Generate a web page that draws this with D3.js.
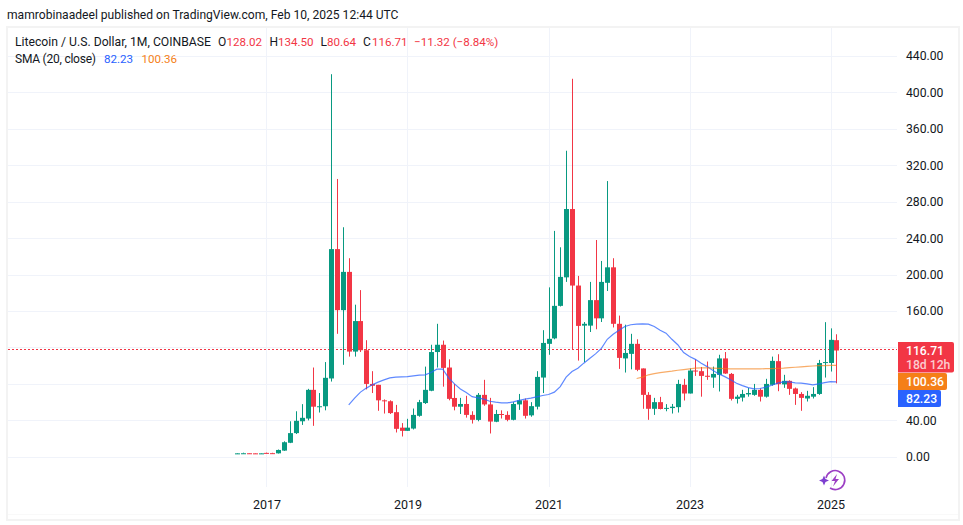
<!DOCTYPE html>
<html>
<head>
<meta charset="utf-8">
<script src="https://cdn.jsdelivr.net/npm/d3@7"></script>
<style>
html,body{margin:0;padding:0;background:#fff;}
svg{display:block;}
text{font-family:Roboto,sans-serif;}
</style>
</head>
<body>
<script>
//monthly candles Aug 2016 - Feb 2025
var months = d3.timeMonths(new Date(2016,7,1), new Date(2025,2,1)).map(d3.timeFormat("%Y-%m"));
var opens = [3.7,3.8,3.9,3.8,3.7,4.3,4.0,3.8,6.8,15.4,26,39,42,73.5,55,55.5,86,228,161,203,115.5,149,117,80,79,62,61,49,32,28.5,31,45,59,72.5,115,123,98,64.6,55,58,46,40.5,68,57.5,38.5,47,46,40.6,57.5,62,45.5,55,87,124,130,165.7,197,272,188,144,144,172,152,191,208,146,108,113,124,97,68,52.7,60,53,53.5,54.5,79,69.5,94.7,94,89,87,90,108,91,63.6,65,68.5,68,73.5,66,79,105,79.5,83.4,75,69,64,66,69,103,103,128.02];
var highs = [4.1,4.5,4.1,4,4.1,4.6,4.4,8,17,39,50,57.8,74.6,98,70,104,420,305,252,218,167,183,128,94,79,63,62,57,37,41.7,53,62.5,99,123,146,127.6,107,80,64.7,67,50,70,84.5,64.7,51.5,51,50,60,69,64,60,94,139,186,248,230,336,415,198.6,148,192,238,215,302.7,218,155,145,135,129,97,71,64.7,65.8,57.8,58,84.5,85.6,97,107,98.6,104.6,99,112,115,92,68,73.5,75.7,80,75,85.6,110,112.6,90,84,76,71,72.4,76.5,106.4,147.8,141,134.5];
var lows = [3.5,3.6,3.6,3.5,3.6,3.7,3.6,3.6,6.5,15,25,35,40,34,48.6,51,82.6,135,101,110,110,115,74,70,50.5,47.5,47,26.7,22.3,28.5,30,44,58,72,98,77,62,51,47,43,36.5,39,56,25.6,38,42,39,40,51.5,42,44,52,70,112,129,165,192,118,105.6,104,137,140,148,182,142,96.5,92.5,96,94,52.7,40.6,46,52,50,47.5,48.6,61.8,69.5,88.8,66,84.5,75.7,71.7,91,61.8,58.5,60.7,66,67,60.7,65,78,72,75.7,68,57,50.5,60.7,64,68,87,93.6,80.64];
var closes = [3.8,3.9,3.8,3.7,3.8,4.0,3.8,7.5,16,26,39.5,42.8,73.5,55,55.5,86.7,228,161,203,115.5,149,117,80,78,62,61,48,30.7,28.5,32,46,60,73.5,115,123,97.6,63.6,55,58,46,40.6,68,57.5,38.7,47,46,40.6,58,62,45,55.6,87.7,125,129.5,165.7,197.5,272,188,143.7,146,172,152,192,208,146,108.6,114,124,95.5,68,52.7,60,52.5,53.7,55,80,69.5,94.7,94,88.8,87.8,91,108,91.4,63.6,66,69,70,73.5,66,80,105.3,79.7,83.4,74.6,69,64.7,67,69,103,104,128.4,116.71];
//SMA lines, first value sits at the month in the *Start var
var smaFastStart = "2018-03";
var smaFast = [57,64.4,71,75.4,79,82,84.5,86.7,87.4,87.8,88,88.9,89.6,90,92.5,96.2,96.2,86.7,80,74.5,70.5,66,64.7,63.3,61,60,59.2,59.2,60.3,62,63.3,64.4,65.8,67.3,68.4,71,77,87.4,93.6,97.3,102.8,108,113,119,129,134.6,139,143,145,145.6,146,145.6,143,139,135.7,129,123,114.5,110,107,102.8,99,94.7,91,88,84.5,80.8,78.2,76,74.6,75,76.5,78.6,80.8,82.3,82.3,81.2,80.8,80,79,80,81.5,82.6,82.23];
var smaSlowStart = "2022-04";
var smaSlow = [86,87.4,90,91.4,92.5,93.3,94,95,95.8,96.5,97.3,97.6,97.6,97.3,97,96.8,96.6,96.5,96.5,96.5,96.5,96.6,96.7,96.8,97,97.3,97.8,98.3,98.8,99.3,99.7,100,100.2,100.3,100.36];
var priceTicks = [0,40,80,120,160,200,240,280,320,360,400,440];
var hiddenTicks = [80,120]; //covered by the price labels
var yearTicks = ["2017-01","2019-01","2021-01","2023-01","2025-01"];

var upColor = "#089981", downColor = "#f23645", blue = "#2962ff", orange = "#f57f17";
var textColor = "#131722";

var svg = d3.select("body").append("svg")
    .attr("width",963)
    .attr("height",525);

var x = d3.scalePoint().domain(months).range([237.1,836.4]);
var y = d3.scaleLinear().domain([0,440]).range([456.8,56]);

//frame
svg.append("rect")
    .attr("x",7).attr("y",27)
    .attr("width",952).attr("height",493)
    .attr("fill","#fff").attr("stroke","#f3f3f3").attr("stroke-width",2);
svg.append("line")
    .attr("x1",8).attr("x2",958).attr("y1",514.5).attr("y2",514.5)
    .attr("stroke","#f9f9f9");

//grid
svg.append("g").selectAll("line.h").data(priceTicks).enter().append("line")
    .attr("x1",8).attr("x2",897)
    .attr("y1",function(d){ return Math.round(y(d))+0.5; })
    .attr("y2",function(d){ return Math.round(y(d))+0.5; })
    .attr("stroke","#f0f3fa");
svg.append("g").selectAll("line.v").data(yearTicks).enter().append("line")
    .attr("y1",28).attr("y2",487)
    .attr("x1",function(d){ return Math.round(x(d))+0.5; })
    .attr("x2",function(d){ return Math.round(x(d))+0.5; })
    .attr("stroke","#f0f3fa");

//axes
var yAxis = d3.axisRight(y).tickValues(priceTicks.filter(function(d){ return hiddenTicks.indexOf(d)<0; }))
    .tickSize(0).tickPadding(9)
    .tickFormat(d3.format(".2f"));
var yG = svg.append("g").attr("transform","translate(897,0)").call(yAxis);
yG.select(".domain").remove();
yG.selectAll("text").attr("font-size",12.2).attr("font-family",null).attr("fill",textColor);

var xAxis = d3.axisBottom(x).tickValues(yearTicks).tickSize(0).tickPadding(8)
    .tickFormat(function(d){ return d.slice(0,4); });
var xG = svg.append("g").attr("transform","translate(0,492)").call(xAxis);
xG.select(".domain").remove();
xG.selectAll("text").attr("font-size",12.5).attr("font-family",null).attr("fill",textColor);

//last price line
svg.append("line")
    .attr("x1",8).attr("x2",897)
    .attr("y1",Math.round(y(closes[closes.length-1]))-0.5)
    .attr("y2",Math.round(y(closes[closes.length-1]))-0.5)
    .attr("stroke",downColor).attr("stroke-dasharray","2,2");

//candles
var candles = svg.append("g").selectAll("g").data(months).enter().append("g");
function color(i){ return closes[i]>=opens[i] ? upColor : downColor; }
candles.append("line")
    .attr("x1",function(d){ return Math.round(x(d))+0.5; })
    .attr("x2",function(d){ return Math.round(x(d))+0.5; })
    .attr("y1",function(d,i){ return y(highs[i]); })
    .attr("y2",function(d,i){ return y(lows[i]); })
    .attr("stroke",function(d,i){ return color(i); });
candles.append("rect")
    .attr("x",function(d){ return Math.round(x(d))-2; })
    .attr("width",5)
    .attr("y",function(d,i){ return y(Math.max(opens[i],closes[i])); })
    .attr("height",function(d,i){ return Math.max(1,Math.abs(y(opens[i])-y(closes[i]))); })
    .attr("fill",function(d,i){ return color(i); });

//sma lines
var line = d3.line()
    .x(function(d){ return x(d.m); })
    .y(function(d){ return y(d.v); });
function smaPoints(start,vals){
    var s = months.indexOf(start);
    return vals.map(function(v,i){ return {m:months[s+i],v:v}; });
}
svg.append("path").attr("fill","none").attr("stroke",blue).attr("stroke-opacity",0.75).attr("stroke-width",1.2)
    .attr("d",line(smaPoints(smaFastStart,smaFast)));
svg.append("path").attr("fill","none").attr("stroke",orange).attr("stroke-opacity",0.65).attr("stroke-width",1.2)
    .attr("d",line(smaPoints(smaSlowStart,smaSlow)));

//price labels on the axis
function priceLabel(top,h,w,col){
    svg.append("path")
        .attr("d","M898,"+top+"h"+(w-2)+"a2,2 0 0 1 2,2v"+(h-4)+"a2,2 0 0 1 -2,2h-"+(w-2)+"z")
        .attr("fill",col);
}
priceLabel(342,30.5,56,downColor);
priceLabel(373,17,49,orange);
priceLabel(390,17,43,blue);
function axisText(txt,yy,fill,op){
    svg.append("text").attr("x",906).attr("y",yy).attr("font-size",12.2).attr("font-weight",500)
        .attr("fill",fill).attr("fill-opacity",op||1).text(txt);
}
axisText("116.71",355,"#fff");
axisText("18d 12h",369,"#fff",0.75);
axisText("100.36",386,"#fff");
axisText("82.23",403,"#fff");

//header text
function label(tx,ty,txt,fill,size,spacing){
    svg.append("text").attr("x",tx).attr("y",ty)
        .attr("font-size",size||11.6)
        .attr("letter-spacing",spacing||0)
        .attr("fill",fill||textColor).text(txt);
}
label(7,19,"mamrobinaadeel published on TradingView.com, Feb 10, 2025 12:44 UTC",textColor,12.1);
label(15,46,"Litecoin / U.S. Dollar, 1M, COINBASE",textColor,12.2);
label(218,46,"O",textColor,12); label(226.5,46,"128.02",downColor);
label(269.5,46,"H",textColor,12); label(278,46,"134.50",downColor);
label(320.5,46,"L",textColor,12); label(327,46,"80.64",downColor);
label(363,46,"C",textColor,12); label(372,46,"116.71",downColor);
label(414,46,"\u221211.32 (\u22128.84%)",downColor);
label(15,63,"SMA (20, close)",textColor,12,-0.23);
label(104,63,"82.23",blue);
label(141.5,63,"100.36",orange);

//little lightning logo
var logo = svg.append("g").attr("transform","translate(835,480)");
logo.append("path").attr("d","M-9,-2A9.5,9.5 0 1 1 -5,8")
    .attr("fill","none").attr("stroke","#9c3fc4").attr("stroke-width",1.6);
logo.append("path").attr("d","M2,-6L-3.5,1H0L-2,6.5L4,-1H0.5Z").attr("fill","#9c3fc4");
logo.append("path").attr("d","M-11,-4.5L-9.5,-1L-6,0.5L-9.5,2L-11,5.5L-12.5,2L-16,0.5L-12.5,-1Z").attr("fill","#7e3fd0");
</script>
</body>
</html>
